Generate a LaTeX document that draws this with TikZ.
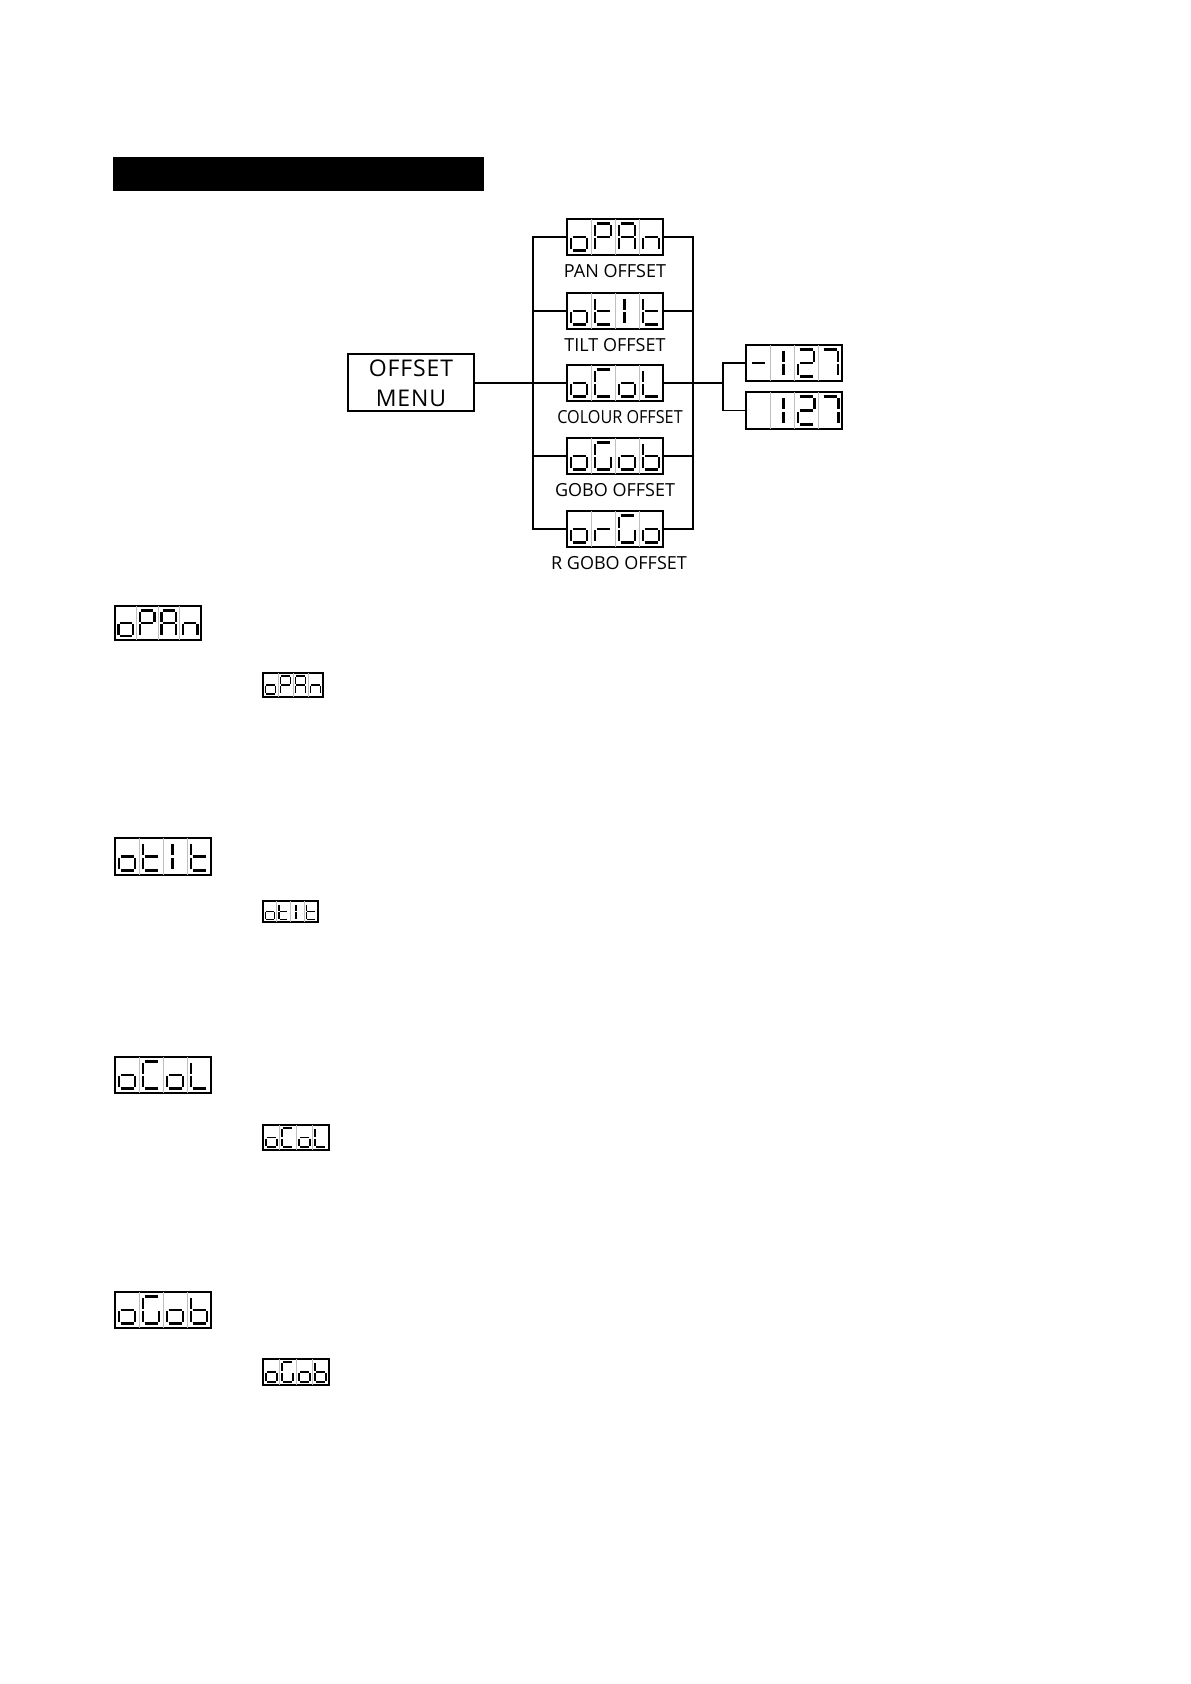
\documentclass[tikz,border=0pt]{standalone}
\usepackage{fontspec}
\setmainfont{Open Sans}
\newfontfamily\menufont[LetterSpace=4]{Open Sans}
\newfontfamily\narrowfont[FakeStretch=0.9]{Open Sans}
\usetikzlibrary{positioning}

% seven-segment pieces, one cell is 1 wide and the display 1 high
\newcommand{\segpa}{\draw[segline] (0.23,0.87) -- (0.78,0.87);}
\newcommand{\segpb}{\draw[segline] (0.84,0.83) -- (0.84,0.54);}
\newcommand{\segpc}{\draw[segline] (0.84,0.46) -- (0.84,0.16);}
\newcommand{\segpd}{\draw[segline] (0.23,0.12) -- (0.78,0.12);}
\newcommand{\segpe}{\draw[segline] (0.17,0.46) -- (0.17,0.16);}
\newcommand{\segpf}{\draw[segline] (0.17,0.83) -- (0.17,0.54);}
\newcommand{\segpg}{\draw[segline] (0.23,0.5) -- (0.78,0.5);}
\newcommand{\segpi}{\draw[segline] (0.4,0.83) -- (0.4,0.54) (0.4,0.46) -- (0.4,0.16);}
\newcommand{\segpj}{\draw[segline] (0.56,0.83) -- (0.56,0.54) (0.56,0.46) -- (0.56,0.16);}
\newcommand{\segpz}{}

% display: name, left, top, width, height (px), glyphs
\newcommand{\segdisp}[6]{%
  \node[dispbox, minimum width=#4*0.5pt, minimum height=#5*0.5pt,
        anchor=north west] (#1) at (#2,#3) {};
  \pgfmathsetmacro\cellw{#4*0.125}
  \pgfmathsetmacro\cellh{#5*0.5}
  \pgfmathsetmacro\segw{#5*0.036}
  \begin{scope}[shift={(#1.south west)}, x=\cellw pt, y=\cellh pt,
                segline/.style={line width=\segw pt}]
    \foreach \k in {1,2,3} \draw[gray!50, line width=0.3pt] (\k,0) -- (\k,1);
    \foreach \g [count=\n from 0] in {#6} {
      \begin{scope}[shift={(\n,0)}]
        \foreach \s in \g {\csname segp\s\endcsname}
      \end{scope}
    }
  \end{scope}
}

\begin{document}
\begin{tikzpicture}[
  x=0.5pt, y=-0.5pt,
  dispbox/.style={rectangle, draw, line width=0.75pt, inner sep=0pt, outer sep=0pt},
  menubox/.style={rectangle, draw, line width=1pt, minimum width=63pt,
                  minimum height=28.5pt, inner sep=0pt, align=center,
                  font=\menufont\fontsize{11.5}{15}\selectfont},
  lbl/.style={font=\fontsize{9}{11}\selectfont},
  bus/.style={line width=0.9pt},
]
\useasboundingbox (0,0) rectangle (1190,1684);

% title bar
\fill[black] (113,157) rectangle (484,191);

% menu
\node[menubox] (menu) at (411,383) {OFFSET\\MENU};

% sub menus
\segdisp{pan}{567}{219}{96}{36}{{c,d,e,g},{a,b,e,f,g},{a,b,c,e,f,g},{c,e,g}}
\segdisp{tilt}{567}{293}{96}{36}{{c,d,e,g},{d,e,f,g},{i},{d,e,f,g}}
\segdisp{colour}{567}{365}{96}{36}{{c,d,e,g},{a,d,e,f},{c,d,e,g},{d,e,f}}
\segdisp{gobo}{567}{438}{96}{36}{{c,d,e,g},{a,c,d,e,f},{c,d,e,g},{c,d,e,f,g}}
\segdisp{rgobo}{567}{511}{96}{36}{{c,d,e,g},{e,g},{a,c,d,e,f},{c,d,e,g}}

\node[lbl, below=1pt of pan] {PAN OFFSET};
\node[lbl, below=1pt of tilt] {TILT OFFSET};
\node[lbl, font=\narrowfont\fontsize{9}{11}\selectfont, below=1pt of colour, xshift=2.5pt] {COLOUR OFFSET};
\node[lbl, below=1pt of gobo] {GOBO OFFSET};
\node[lbl, below=1pt of rgobo, xshift=2pt] {R GOBO OFFSET};

% value range
\segdisp{neg}{746}{345}{96}{36}{{g},{j},{a,b,d,e,g},{a,b,c}}
\segdisp{pos}{746}{392}{96}{37}{{z},{j},{a,b,d,e,g},{a,b,c}}

% connectors
\coordinate (lbus) at (533,383);
\coordinate (rbus) at (693,385);
\coordinate (fork) at (723,386);

\draw[bus] (pan.west) -| (lbus |- rgobo.west) -- (rgobo.west);
\foreach \d in {tilt,colour,gobo} \draw[bus] (\d.west) -- (\d.west -| lbus);
\draw[bus] (menu.east) -- (menu.east -| lbus);
\draw[bus] (pan.east) -| (rbus |- rgobo.east) -- (rgobo.east);
\foreach \d in {tilt,colour,gobo} \draw[bus] (\d.east) -- (\d.east -| rbus);
\draw[bus] (colour.east -| rbus) -- (colour.east -| fork);
\draw[bus] (neg.west) -| (fork |- pos.west) -- (pos.west);

% section displays
\segdisp{panA}{115}{606}{86}{34}{{c,d,e,g},{a,b,e,f,g},{a,b,c,e,f,g},{c,e,g}}
\segdisp{panB}{263}{673}{60}{24}{{c,d,e,g},{a,b,e,f,g},{a,b,c,e,f,g},{c,e,g}}
\segdisp{tiltA}{115}{838}{96}{37}{{c,d,e,g},{d,e,f,g},{i},{d,e,f,g}}
\segdisp{tiltB}{263}{901}{55}{21}{{c,d,e,g},{d,e,f,g},{i},{d,e,f,g}}
\segdisp{colourA}{115}{1057}{96}{36}{{c,d,e,g},{a,d,e,f},{c,d,e,g},{d,e,f}}
\segdisp{colourB}{263}{1125}{66}{25}{{c,d,e,g},{a,d,e,f},{c,d,e,g},{d,e,f}}
\segdisp{goboA}{115}{1292}{96}{36}{{c,d,e,g},{a,c,d,e,f},{c,d,e,g},{c,d,e,f,g}}
\segdisp{goboB}{263}{1359}{66}{26}{{c,d,e,g},{a,c,d,e,f},{c,d,e,g},{c,d,e,f,g}}

\end{tikzpicture}
\end{document}
